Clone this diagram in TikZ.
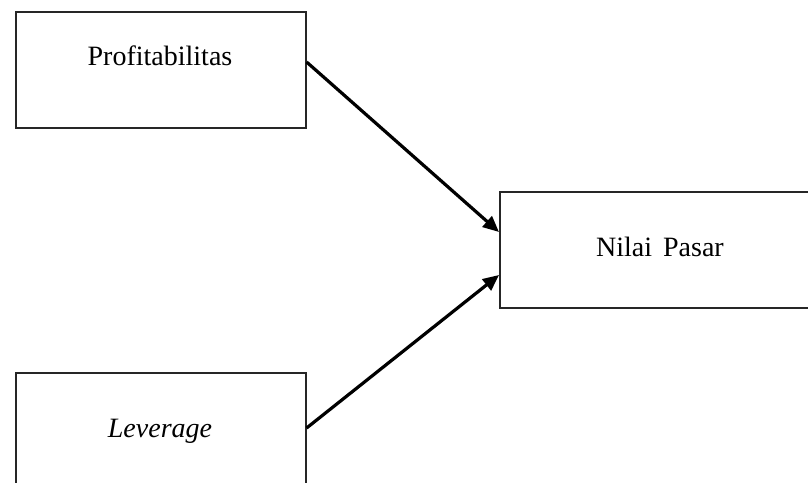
\documentclass[tikz,border=0pt]{standalone}
\usepackage{fontspec}
\setmainfont{Liberation Serif}
\usetikzlibrary{arrows.meta}
\begin{document}
\begin{tikzpicture}[x=1pt,y=-1pt,
  boxnode/.style={draw=black!85,line width=1.6pt,rectangle,anchor=north west,inner sep=0pt,minimum width=290pt,minimum height=116pt},
  lbl/.style={anchor=base,inner sep=0pt,font=\fontsize{28}{31}\selectfont},
  conn/.style={line width=3.2pt,-{Triangle[length=16pt,width=14pt]}}]
\useasboundingbox (0,0) rectangle (808,482);
\clip (0,0) rectangle (808,482);
\node[boxnode] (b1) at (15,11) {};
\node[boxnode,minimum width=330pt,minimum height=116pt] (b2) at (499,191) {};
\node[boxnode] (b3) at (15,372) {};
\node[lbl] (t1) at (160,65) {Profitabilitas};
\node[lbl] (t2) at (660,256) {Nilai\hspace{11pt}Pasar};
\node[lbl] (t3) at (160,437) {\itshape Leverage};
\coordinate (s1) at ([yshift=-51pt]b1.north east);
\coordinate (e1) at ([yshift=-41pt]b2.north west);
\coordinate (s2) at ([yshift=-56pt]b3.north east);
\coordinate (e2) at ([yshift=-84pt]b2.north west);
\draw[conn] (s1) -- (e1);
\draw[conn] (s2) -- (e2);
\end{tikzpicture}
\end{document}
